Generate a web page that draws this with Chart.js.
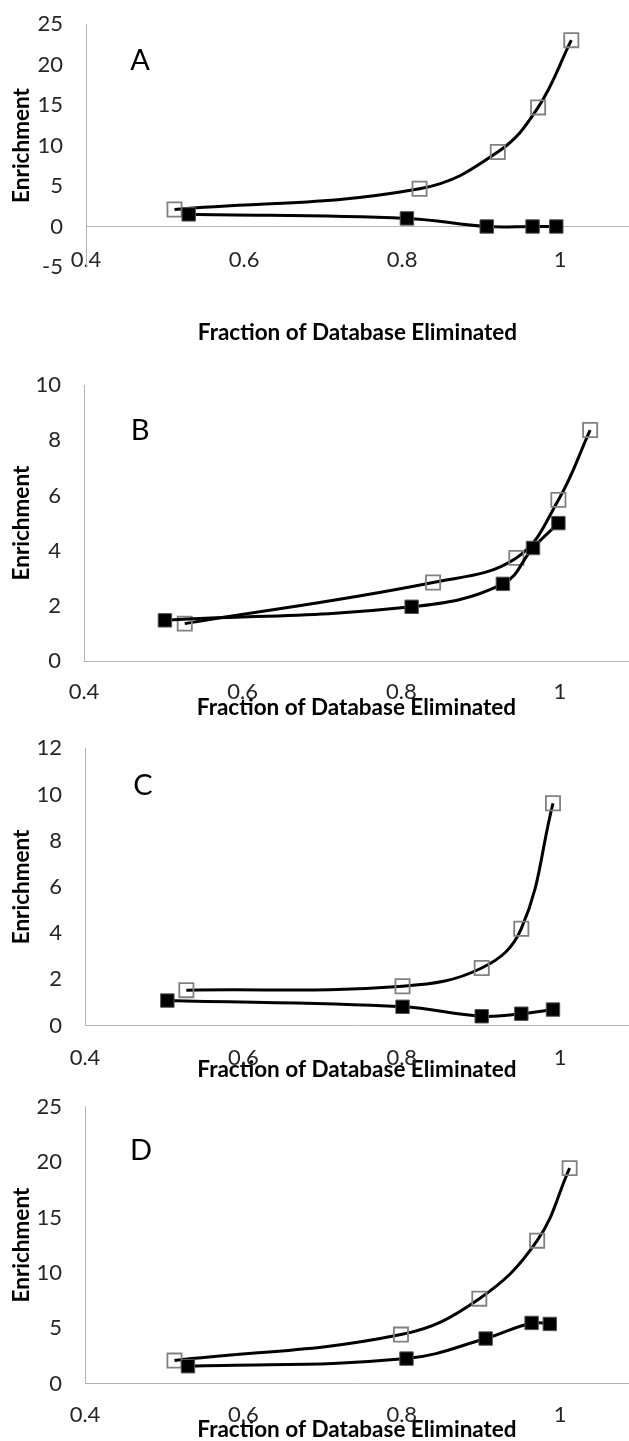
<!DOCTYPE html>
<html>
<head>
<meta charset="utf-8">
<script src="https://cdn.jsdelivr.net/npm/chart.js"></script>
<style>
body { margin: 0; background: #fff; }
.panel { width: 629px; }
canvas { display: block; }
</style>
</head>
<body>
<div class="panel"><canvas id="chartA" width="629" height="360"></canvas></div>
<div class="panel"><canvas id="chartB" width="629" height="360"></canvas></div>
<div class="panel"><canvas id="chartC" width="629" height="360"></canvas></div>
<div class="panel"><canvas id="chartD" width="629" height="361"></canvas></div>
<script>
let xTicks = [0.4, 0.6, 0.8, 1]

// panel A
let aOpenX = [0.512, 0.822, 0.921, 0.972, 1.014]
let aOpenY = [2.1, 4.66, 9.2, 14.7, 23.0]
let aFilledX = [0.530, 0.806, 0.907, 0.965, 0.995]
let aFilledY = [1.5, 1.0, 0, 0, 0]
let aYTicks = [-5, 0, 5, 10, 15, 20, 25]

// panel B
let bOpenX = [0.527, 0.840, 0.945, 0.998, 1.038]
let bOpenY = [1.36, 2.85, 3.74, 5.84, 8.37]
let bFilledX = [0.502, 0.813, 0.928, 0.966, 0.998]
let bFilledY = [1.48, 1.97, 2.80, 4.10, 5.0]
let bYTicks = [0, 2, 4, 6, 8, 10]

// panel C
let cOpenX = [0.528, 0.801, 0.901, 0.951, 0.991]
let cOpenY = [1.53, 1.70, 2.49, 4.19, 9.62]
let cFilledX = [0.504, 0.801, 0.901, 0.951, 0.991]
let cFilledY = [1.08, 0.81, 0.40, 0.51, 0.69]
let cYTicks = [0, 2, 4, 6, 8, 10, 12]

// panel D
let dOpenX = [0.513, 0.799, 0.898, 0.971, 1.012]
let dOpenY = [2.07, 4.42, 7.66, 12.9, 19.45]
let dFilledX = [0.530, 0.806, 0.906, 0.964, 0.987]
let dFilledY = [1.56, 2.25, 4.06, 5.47, 5.38]
let dYTicks = [0, 5, 10, 15, 20, 25]

let xTitle = "Fraction of Database Eliminated"
let yTitle = "Enrichment"

Chart.defaults.font.family = "Lato"
Chart.defaults.animation = false

function toPoints(xs, ys) {
    return xs.map(function (x, i) { return { x: x, y: ys[i] } })
}

let letterPlugin = {
    id: "panelLetter",
    afterDraw: function (chart, args, opts) {
        let ctx = chart.ctx
        ctx.save()
        ctx.font = "29px Lato"
        ctx.fillStyle = "#000"
        ctx.textAlign = "center"
        ctx.textBaseline = "alphabetic"
        ctx.fillText(opts.text, opts.x, opts.y)
        ctx.restore()
    }
}

function makeChart(id, letter, openX, openY, filledX, filledY, yTicks, box) {
    let ctx = document.getElementById(id).getContext("2d")
    return new Chart(ctx, {
        type: "scatter",
        data: {
            datasets: [{
                label: "filled",
                data: toPoints(filledX, filledY),
                showLine: true,
                tension: 0.4,
                borderColor: "#000",
                borderWidth: 3,
                pointStyle: "rect",
                pointRadius: 9.5,
                pointBackgroundColor: "#000",
                pointBorderColor: "#555",
                pointBorderWidth: 1,
                clip: false
            }, {
                label: "open",
                data: toPoints(openX, openY),
                showLine: true,
                tension: 0.4,
                borderColor: "#000",
                borderWidth: 3,
                pointStyle: "rect",
                pointRadius: 10,
                pointBackgroundColor: "rgba(0,0,0,0)",
                pointBorderColor: "#808080",
                pointBorderWidth: 1.8,
                clip: false
            }]
        },
        options: {
            responsive: false,
            layout: { autoPadding: false, padding: { top: box.top, left: 0, right: 0, bottom: 0 } },
            plugins: {
                legend: { display: false },
                tooltip: { enabled: false },
                title: {
                    display: true,
                    text: xTitle,
                    position: "bottom",
                    fullSize: false,
                    color: "#000",
                    font: { size: 22.5, weight: "bold", lineHeight: 1 },
                    padding: { top: box.titleY - box.bottom - 11, bottom: box.height - box.titleY - 11 }
                },
                panelLetter: { text: letter, x: box.letterX, y: box.letterY }
            },
            scales: {
                x: {
                    type: "linear",
                    position: { y: 0 },
                    min: 0.4,
                    max: 1.087,
                    afterBuildTicks: function (s) { s.ticks = xTicks.map(function (v) { return { value: v } }) },
                    afterFit: function (s) {
                        s.height = 0
                        s.paddingLeft = 0
                        s.paddingRight = 0
                    },
                    grid: { display: false, drawTicks: false },
                    border: { color: "#b3b3b3", width: 1 },
                    ticks: {
                        padding: box.labelPad,
                        color: "#262626",
                        font: { size: 22 },
                        maxRotation: 0,
                        callback: function (v) { return String(v) }
                    }
                },
                y: {
                    min: yTicks[0],
                    max: yTicks[yTicks.length - 1],
                    afterBuildTicks: function (s) { s.ticks = yTicks.map(function (v) { return { value: v } }) },
                    afterFit: function (s) {
                        s.width = box.left
                        s.paddingTop = 0
                        s.paddingBottom = 0
                    },
                    grid: { display: false, drawTicks: false },
                    border: { color: "#b3b3b3", width: 1 },
                    ticks: {
                        padding: 23,
                        color: "#262626",
                        font: { size: 22 },
                        callback: function (v) { return String(v) }
                    },
                    title: {
                        display: true,
                        text: yTitle,
                        color: "#000",
                        font: { size: 22.5, weight: "bold" },
                        padding: { top: 8, bottom: 0 }
                    }
                }
            }
        },
        plugins: [letterPlugin]
    })
}

makeChart("chartA", "A", aOpenX, aOpenY, aFilledX, aFilledY, aYTicks,
    { height: 360, top: 24, bottom: 267.5, left: 86, labelPad: 20, titleY: 333, letterX: 140, letterY: 70 })
makeChart("chartB", "B", bOpenX, bOpenY, bFilledX, bFilledY, bYTicks,
    { height: 360, top: 25, bottom: 301.7, left: 84, labelPad: 18, titleY: 348, letterX: 140, letterY: 80 })
makeChart("chartC", "C", cOpenX, cOpenY, cFilledX, cFilledY, cYTicks,
    { height: 360, top: 28.3, bottom: 306, left: 85, labelPad: 19, titleY: 350, letterX: 143, letterY: 75 })
makeChart("chartD", "D", dOpenX, dOpenY, dFilledX, dFilledY, dYTicks,
    { height: 361, top: 26.7, bottom: 304, left: 85, labelPad: 18, titleY: 350, letterX: 141, letterY: 80 })
</script>
</body>
</html>
